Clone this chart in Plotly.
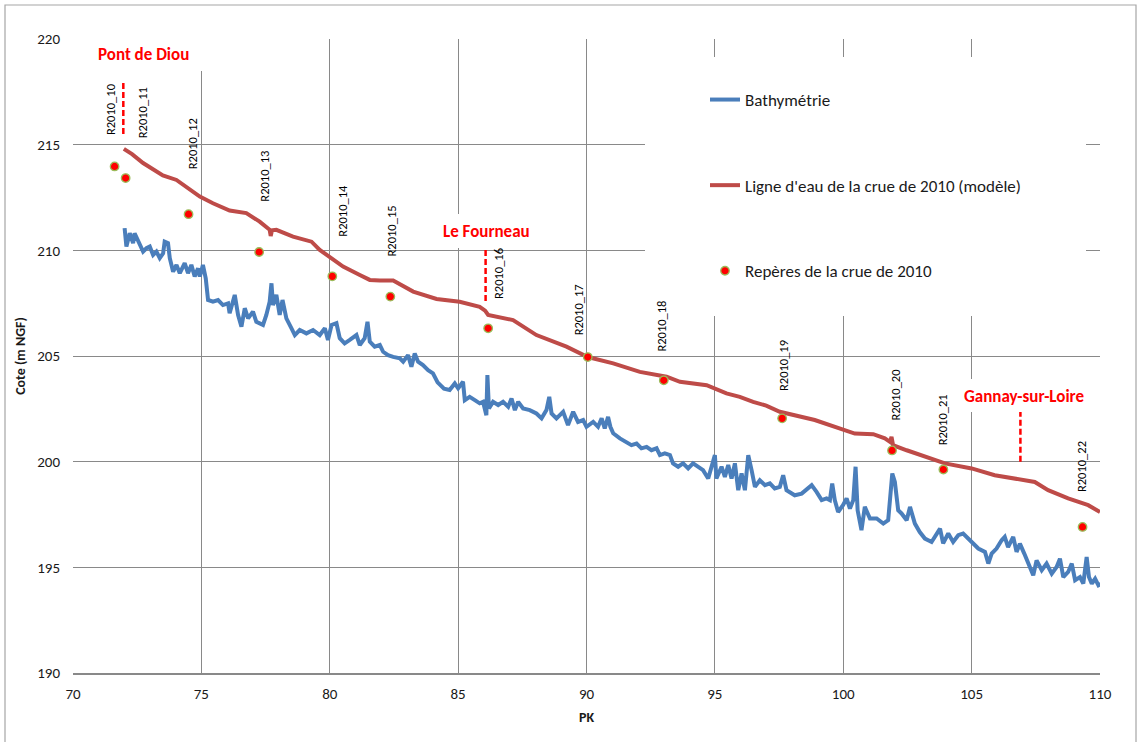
import plotly.graph_objects as go

# ---------------- data ----------------
bathy_pk = [72.01, 72.08, 72.21, 72.34, 72.40, 72.53, 72.73, 72.86, 72.99, 73.12, 73.25, 73.38, 73.51, 73.57,
            73.70, 73.77, 73.90, 74.03, 74.16, 74.35, 74.48, 74.61, 74.74, 74.87, 74.94, 75.06, 75.17, 75.26,
            75.45, 75.65, 75.84, 76.04, 76.10, 76.30, 76.43, 76.56, 76.69, 76.82, 77.01, 77.14, 77.40, 77.53,
            77.66, 77.73, 77.79, 77.92, 78.05, 78.16, 78.31, 78.51, 78.64, 78.83, 79.09, 79.35, 79.61, 79.81,
            79.93, 80.07, 80.26, 80.39, 80.58, 80.78, 81.04, 81.17, 81.36, 81.47, 81.56, 81.75, 81.95, 82.08,
            82.27, 82.47, 82.73, 82.86, 83.05, 83.18, 83.31, 83.44, 83.63, 83.83, 84.02, 84.20, 84.45, 84.67,
            84.87, 85.00, 85.19, 85.26, 85.45, 85.65, 85.84, 85.97, 86.10, 86.14, 86.20, 86.36, 86.56, 86.75,
            86.95, 87.08, 87.21, 87.34, 87.53, 87.79, 88.05, 88.25, 88.44, 88.55, 88.64, 88.83, 89.09, 89.28,
            89.48, 89.67, 89.87, 90.00, 90.26, 90.45, 90.59, 90.71, 90.84, 90.93, 91.04, 91.30, 91.56, 91.75,
            91.95, 92.14, 92.34, 92.53, 92.73, 92.86, 93.05, 93.25, 93.37, 93.57, 93.76, 93.96, 94.15, 94.35,
            94.54, 94.74, 94.87, 95.00, 95.06, 95.26, 95.39, 95.52, 95.65, 95.78, 95.91, 96.04, 96.17, 96.30,
            96.43, 96.56, 96.75, 96.95, 97.14, 97.33, 97.53, 97.66, 97.79, 97.99, 98.11, 98.38, 98.63, 98.77,
            98.96, 99.16, 99.35, 99.48, 99.57, 99.67, 99.80, 99.99, 100.13, 100.26, 100.39, 100.48, 100.56,
            100.71, 100.84, 101.04, 101.30, 101.56, 101.75, 101.91, 102.01, 102.14, 102.27, 102.47, 102.60,
            102.79, 102.98, 103.18, 103.44, 103.63, 103.77, 103.89, 104.09, 104.28, 104.48, 104.67, 104.87,
            105.06, 105.26, 105.52, 105.65, 105.78, 105.97, 106.17, 106.29, 106.42, 106.62, 106.75, 106.88,
            107.05, 107.20, 107.40, 107.53, 107.73, 107.92, 108.12, 108.31, 108.44, 108.57, 108.76, 108.90,
            109.03, 109.22, 109.35, 109.48, 109.57, 109.68, 109.81, 109.94, 110.07]
bathy_z = [211.05, 210.18, 210.81, 210.34, 210.81, 210.49, 209.94, 210.10, 210.18, 209.78, 209.94, 209.63, 209.86, 210.41,
           210.34, 209.63, 208.99, 209.31, 208.92, 209.39, 208.92, 209.31, 208.76, 209.15, 208.76, 209.31, 208.68, 207.65,
           207.57, 207.65, 207.41, 207.49, 207.02, 207.89, 206.94, 206.39, 207.26, 206.78, 207.10, 206.62, 206.47, 206.94,
           207.57, 208.44, 207.41, 207.89, 206.94, 207.65, 206.78, 206.31, 205.99, 206.23, 206.07, 206.23, 205.99, 206.31,
           205.76, 206.47, 206.55, 205.84, 205.60, 205.76, 205.99, 205.52, 205.84, 206.62, 205.68, 205.44, 205.52, 205.20,
           205.04, 204.96, 204.89, 204.73, 205.04, 204.49, 205.12, 204.73, 204.57, 204.33, 204.18, 203.75, 203.45, 203.39,
           203.70, 203.47, 203.78, 202.91, 203.07, 202.91, 202.76, 202.83, 202.20, 204.10, 202.52, 202.83, 202.68, 202.83,
           202.60, 202.99, 202.44, 202.83, 202.52, 202.44, 202.28, 202.05, 202.44, 203.07, 202.28, 202.05, 202.36, 201.73,
           202.36, 201.88, 201.97, 201.65, 201.88, 201.65, 202.05, 201.57, 202.12, 201.65, 201.34, 201.10, 200.94, 200.78,
           200.86, 200.63, 200.70, 200.54, 200.63, 200.31, 200.39, 200.31, 199.92, 199.76, 199.92, 199.68, 199.92, 199.76,
           199.60, 199.20, 199.84, 200.31, 199.20, 199.76, 199.28, 199.84, 199.20, 199.92, 198.65, 199.44, 198.65, 200.31,
           199.60, 198.81, 199.12, 198.89, 198.97, 198.73, 198.81, 199.36, 198.65, 198.49, 198.41, 198.49, 198.73, 198.89,
           198.57, 198.18, 198.26, 198.18, 198.97, 198.18, 197.62, 197.94, 198.26, 197.78, 198.18, 199.76, 197.70,
           196.76, 197.86, 197.31, 197.31, 197.07, 197.23, 199.44, 199.04, 197.70, 197.55, 197.23, 197.86,
           197.07, 196.67, 196.36, 196.20, 196.52, 196.83, 196.13, 196.60, 196.20, 196.52, 196.60, 196.36,
           196.13, 195.89, 195.73, 195.18, 195.65, 195.89, 196.28, 196.44, 195.96, 196.44, 195.73, 196.12,
           195.65, 195.18, 194.62, 195.33, 194.86, 195.18, 194.70, 195.02, 195.41, 194.54, 194.78, 195.18,
           194.39, 194.54, 194.23, 195.49, 194.54, 194.23, 194.46, 194.15, 194.23]

model_pk = [71.98, 72.30, 72.73, 73.10, 73.50, 74.03, 74.50, 74.94, 75.45, 76.10, 76.75, 77.27, 77.66, 77.70,
            77.75, 77.92, 78.57, 79.29, 79.61, 80.13, 80.52, 81.17, 81.56, 81.95, 82.47, 83.25, 84.16, 85.06,
            85.84, 86.05, 86.17, 87.14, 88.05, 89.22, 90.05, 91.04, 92.08, 93.12, 93.64, 94.68, 95.45, 95.97,
            96.49, 97.00, 97.53, 98.89, 100.06, 100.45, 101.17, 101.62, 101.82, 101.88, 101.94, 102.47, 103.96,
            105.00, 105.90, 106.94, 107.46, 107.98, 108.76, 109.54, 110.00]
model_z = [214.80, 214.55, 214.13, 213.85, 213.54, 213.33, 212.95, 212.54, 212.23, 211.88, 211.76, 211.36, 210.97, 210.68,
           210.95, 210.97, 210.65, 210.41, 210.02, 209.55, 209.23, 208.83, 208.60, 208.57, 208.57, 208.05, 207.70, 207.57,
           207.33, 207.15, 206.94, 206.70, 205.99, 205.44, 204.95, 204.65, 204.25, 204.02, 203.78, 203.62, 203.23, 203.07,
           202.83, 202.65, 202.36, 201.97, 201.49, 201.33, 201.30, 201.10, 200.94, 201.17, 200.78, 200.54, 199.92,
           199.68, 199.36, 199.12, 199.04, 198.65, 198.26, 197.94, 197.62]

rep_names = ["R2010_10", "R2010_11", "R2010_12", "R2010_13", "R2010_14", "R2010_15", "R2010_16",
             "R2010_17", "R2010_18", "R2010_19", "R2010_20", "R2010_21", "R2010_22"]
rep_pk = [71.62, 72.05, 74.50, 77.25, 80.10, 82.36, 86.17, 90.05, 93.01, 97.62, 101.90, 103.90, 109.32]
rep_z = [213.97, 213.42, 211.71, 209.92, 208.77, 207.81, 206.31, 204.95, 203.85, 202.05, 200.53, 199.63, 196.91]

place_names = ["Pont de Diou", "Le Fourneau", "Gannay-sur-Loire"]
place_pk = [71.96, 86.07, 106.90]
place_z_low = [215.5, 207.6, 200.0]
place_z_high = [218.0, 210.1, 202.45]

x_ticks = [70, 75, 80, 85, 90, 95, 100, 105, 110]
y_ticks = [190, 195, 200, 205, 210, 215, 220]

# ---------------- styling / layout constants ----------------
W, H = 1137, 742
ML, MR, MT, MB = 73, 37, 39, 69
PW, PH = W - ML - MR, H - MT - MB
FONT = "Carlito, Calibri, Lato, sans-serif"
GRID = "#898989"
TXT = "#1a1a1a"

# label offsets (pixels) of the rotated R2010 labels relative to their marker
lab_dx = [-4, 17, 4, 5, 10, 1, 11, -9, -2, 2, 3, 0, -1]
lab_dy = [29, 38, 43, 48, 38, 38, 27, 20, 27, 25, 28, 22, 33]
# place label offsets (pixels): dx from the dashed line, dy above its top
place_dx = [20, 1, 4]
place_dy = [14, 4, 1]


def px_x(p):
    return (p - ML) / PW


def px_y(p):
    return (H - MB - p) / PH


fig = go.Figure()

fig.add_trace(go.Scatter(x=bathy_pk, y=bathy_z, mode="lines", name="Bathymétrie",
                         line=dict(color="#4a7ebb", width=4), legendgroup="a"))
fig.add_trace(go.Scatter(x=model_pk, y=model_z, mode="lines",
                         name="Ligne d'eau de la crue de 2010 (modèle)",
                         line=dict(color="#be4b48", width=4), legendgroup="b"))
fig.add_trace(go.Scatter(x=rep_pk, y=rep_z, mode="markers", name="Repères de la crue de 2010",
                         marker=dict(color="#ff0000", size=8.5, line=dict(color="#9bbb59", width=1.3)),
                         legendgroup="c"))

for i, nm in enumerate(place_names):
    fig.add_trace(go.Scatter(x=[place_pk[i], place_pk[i]], y=[place_z_low[i], place_z_high[i]],
                             mode="lines", showlegend=False, hoverinfo="skip",
                             line=dict(color="#ff0000", width=2.5, dash="6px,3px")))

annotations = []
for i, nm in enumerate(rep_names):
    annotations.append(dict(x=rep_pk[i], y=rep_z[i], xref="x", yref="y", text=nm, textangle=-90,
                            showarrow=False, xanchor="center", yanchor="bottom",
                            xshift=lab_dx[i], yshift=lab_dy[i],
                            font=dict(family=FONT, size=12.5, color="#000000")))
for i, nm in enumerate(place_names):
    annotations.append(dict(x=place_pk[i], y=place_z_high[i], xref="x", yref="y", text="<b>%s</b>" % nm,
                            showarrow=False, xanchor="center", yanchor="bottom",
                            xshift=place_dx[i], yshift=place_dy[i],
                            font=dict(family=FONT, size=17, color="#ff0000")))

# white boxes of the text frames (hide gridlines underneath)
boxes = [(63, 20, 216, 71), (437, 214, 535, 248), (955, 379, 1090, 412), (645, 57, 1086, 316)]
shapes = []
for (x0, y0, x1, y1) in boxes:
    shapes.append(dict(type="rect", xref="paper", yref="paper", x0=px_x(x0), x1=px_x(x1),
                       y0=px_y(y1), y1=px_y(y0), fillcolor="white", line=dict(width=0), layer="above"))
# outer chart frame
shapes.append(dict(type="rect", xref="paper", yref="paper", x0=px_x(5), x1=px_x(1136),
                   y0=px_y(760), y1=px_y(5), line=dict(color="#a6a6a6", width=1.2),
                   fillcolor="rgba(0,0,0,0)", layer="above"))

fig.update_layout(
    width=W, height=H,
    margin=dict(l=ML, r=MR, t=MT, b=MB, pad=0),
    paper_bgcolor="white", plot_bgcolor="white",
    font=dict(family=FONT, size=15, color=TXT),
    xaxis=dict(range=[70, 110], tickvals=x_ticks, ticktext=[str(v) for v in x_ticks],
               showgrid=True, gridcolor=GRID, gridwidth=1, zeroline=False,
               showline=True, linecolor=GRID, linewidth=2, ticks="", ticklabelstandoff=6,
               tickfont=dict(family=FONT, size=15, color=TXT),
               title=dict(text="<b>PK</b>", font=dict(family=FONT, size=14, color=TXT), standoff=10)),
    yaxis=dict(range=[190, 220], tickvals=y_ticks, ticktext=[str(v) for v in y_ticks],
               showgrid=True, gridcolor=GRID, gridwidth=1, zeroline=False,
               showline=False, ticks="", ticklabelstandoff=12,
               tickfont=dict(family=FONT, size=15, color=TXT),
               title=dict(text="<b>Cote (m NGF)</b>", font=dict(family=FONT, size=14, color=TXT),
                          standoff=8)),
    legend=dict(x=px_x(705), y=px_y(82), xanchor="left", yanchor="top",
                bgcolor="rgba(0,0,0,0)", borderwidth=0, tracegroupgap=60.5,
                traceorder="grouped", itemwidth=30,
                font=dict(family=FONT, size=17, color=TXT)),
    annotations=annotations,
    shapes=shapes,
    showlegend=True,
)

fig.write_html("out.html")
